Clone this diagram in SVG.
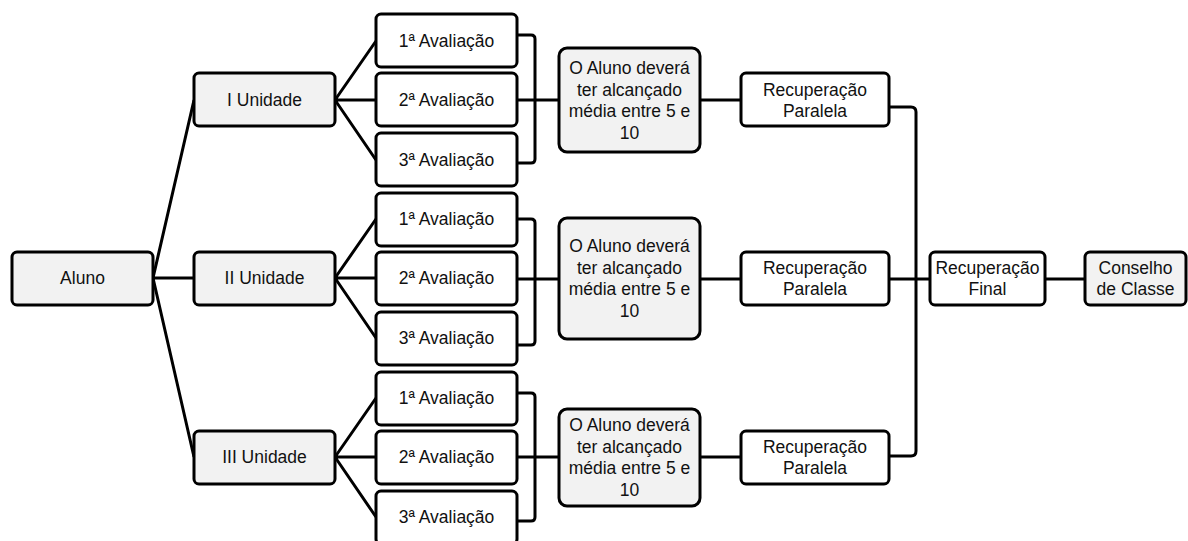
<svg xmlns="http://www.w3.org/2000/svg" width="1188" height="541" viewBox="0 0 1188 541">
<style>
.box{stroke:#000;stroke-width:3;}
.g{fill:#f2f2f2;}
.w{fill:#ffffff;}
.t{font-family:"Liberation Sans",Arial,sans-serif;font-size:17.5px;fill:#111;text-anchor:middle;}
.c{fill:none;stroke:#000;stroke-width:3;stroke-linejoin:round;}
</style>
<rect width="1188" height="541" fill="#fff"/>
<g id="connectors">
<path class="c" d="M153,278 L194,100 M153,278 L194,278 M153,278 L194,457"/>
<path class="c" d="M335,100 L376,41 M335,100 L376,100 M335,100 L376,160"/>
<path class="c" d="M335,278 L376,219 M335,278 L376,278 M335,278 L376,338"/>
<path class="c" d="M335,457 L376,398 M335,457 L376,457 M335,457 L376,517"/>
<path class="c" d="M517,35 H531 Q535,35 535,39 V159 Q535,163 531,163 H517 M517,100 H559"/>
<path class="c" d="M517,219 H531 Q535,219 535,223 V341 Q535,345 531,345 H517 M517,279 H559"/>
<path class="c" d="M517,393 H531 Q535,393 535,397 V517 Q535,521 531,521 H517 M517,457 H559"/>
<path class="c" d="M700,100 H741 M700,279 H741 M700,457 H741"/>
<path class="c" d="M889,107 H911 Q916,107 916,112 V451 Q916,456 911,456 H889 M889,279 H930"/>
<path class="c" d="M1045,279 H1085"/>
</g>
<g id="aluno"><rect class="box g" x="12" y="252" width="141" height="53" rx="5"/><text class="t" x="82.5" y="284">Aluno</text></g>
<g id="unidade1"><rect class="box g" x="194" y="73" width="141" height="53" rx="5"/><text class="t" x="264.5" y="106">I Unidade</text></g>
<g id="unidade2"><rect class="box g" x="194" y="252" width="141" height="53" rx="5"/><text class="t" x="264.5" y="284">II Unidade</text></g>
<g id="unidade3"><rect class="box g" x="194" y="431" width="141" height="53" rx="5"/><text class="t" x="264.5" y="463">III Unidade</text></g>
<g id="av1-1"><rect class="box w" x="376" y="14" width="141" height="53" rx="5"/><text class="t" x="446.5" y="47">1ª Avaliação</text></g>
<g id="av1-2"><rect class="box w" x="376" y="73" width="141" height="53" rx="5"/><text class="t" x="446.5" y="106">2ª Avaliação</text></g>
<g id="av1-3"><rect class="box w" x="376" y="133" width="141" height="53" rx="5"/><text class="t" x="446.5" y="166">3ª Avaliação</text></g>
<g id="av2-1"><rect class="box w" x="376" y="193" width="141" height="53" rx="5"/><text class="t" x="446.5" y="225">1ª Avaliação</text></g>
<g id="av2-2"><rect class="box w" x="376" y="252" width="141" height="53" rx="5"/><text class="t" x="446.5" y="284">2ª Avaliação</text></g>
<g id="av2-3"><rect class="box w" x="376" y="312" width="141" height="53" rx="5"/><text class="t" x="446.5" y="344">3ª Avaliação</text></g>
<g id="av3-1"><rect class="box w" x="376" y="372" width="141" height="53" rx="5"/><text class="t" x="446.5" y="404">1ª Avaliação</text></g>
<g id="av3-2"><rect class="box w" x="376" y="431" width="141" height="53" rx="5"/><text class="t" x="446.5" y="463">2ª Avaliação</text></g>
<g id="av3-3"><rect class="box w" x="376" y="491" width="141" height="53" rx="5"/><text class="t" x="446.5" y="523">3ª Avaliação</text></g>
<g id="media1"><rect class="box g" x="559" y="48" width="141" height="104" rx="8"/>
<text class="t" x="629.5" y="74">O Aluno deverá</text><text class="t" x="629.5" y="95.5">ter alcançado</text><text class="t" x="629.5" y="117">média entre 5 e</text><text class="t" x="629.5" y="138.5">10</text></g>
<g id="media2"><rect class="box g" x="559" y="218" width="141" height="121" rx="8"/>
<text class="t" x="629.5" y="252">O Aluno deverá</text><text class="t" x="629.5" y="273.5">ter alcançado</text><text class="t" x="629.5" y="295">média entre 5 e</text><text class="t" x="629.5" y="316.5">10</text></g>
<g id="media3"><rect class="box g" x="559" y="409" width="141" height="97" rx="8"/>
<text class="t" x="629.5" y="431">O Aluno deverá</text><text class="t" x="629.5" y="452.5">ter alcançado</text><text class="t" x="629.5" y="474">média entre 5 e</text><text class="t" x="629.5" y="495.5">10</text></g>
<g id="rec1"><rect class="box w" x="741" y="73" width="148" height="53" rx="5"/><text class="t" x="815" y="96">Recuperação</text><text class="t" x="815" y="117">Paralela</text></g>
<g id="rec2"><rect class="box w" x="741" y="252" width="148" height="53" rx="5"/><text class="t" x="815" y="274">Recuperação</text><text class="t" x="815" y="295">Paralela</text></g>
<g id="rec3"><rect class="box w" x="741" y="431" width="148" height="53" rx="5"/><text class="t" x="815" y="453">Recuperação</text><text class="t" x="815" y="474">Paralela</text></g>
<g id="recfinal"><rect class="box w" x="930" y="252" width="115" height="53" rx="5"/><text class="t" x="987.5" y="274">Recuperação</text><text class="t" x="987.5" y="295">Final</text></g>
<g id="conselho"><rect class="box g" x="1085" y="252" width="101" height="53" rx="5"/><text class="t" x="1135.5" y="274">Conselho</text><text class="t" x="1135.5" y="295">de Classe</text></g>
</svg>
